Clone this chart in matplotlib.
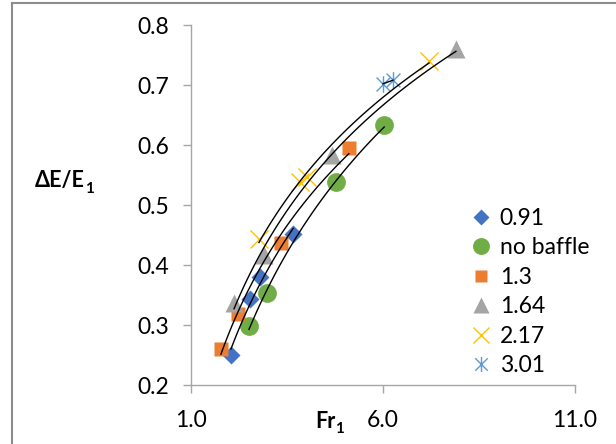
import numpy as np
import matplotlib
matplotlib.use("Agg")
import matplotlib.pyplot as plt
from matplotlib.path import Path
from matplotlib.lines import Line2D

plt.rcParams['font.family'] = ['Lato', 'DejaVu Sans']

# Fr1 y dE/E1 para cada serie (relación de bafles)
fr_091 = [2.04, 2.54, 2.80, 3.66]
de_091 = [0.250, 0.343, 0.380, 0.452]

fr_nb = [2.51, 2.98, 4.78, 6.03]
de_nb = [0.298, 0.353, 0.538, 0.633]

fr_13 = [1.78, 2.22, 3.34, 5.11]
de_13 = [0.260, 0.318, 0.436, 0.595]

fr_164 = [2.12, 2.90, 4.67, 7.90]
de_164 = [0.337, 0.417, 0.583, 0.760]

fr_217 = [2.77, 3.84, 4.02, 7.20]
de_217 = [0.443, 0.538, 0.547, 0.740]

fr_301 = [6.00, 6.26]
de_301 = [0.702, 0.708]

etiquetas = ['0.91', 'no baffle', '1.3', '1.64', '2.17', '3.01']
x_ticks = [1.0, 6.0, 11.0]
y_ticks = [0.2, 0.3, 0.4, 0.5, 0.6, 0.7, 0.8]

# marcador asterisco tipo Excel (x con barra vertical)
estrella = Path([(-1, -1), (1, 1), (-1, 1), (1, -1), (0, -1.2), (0, 1.2)],
                [Path.MOVETO, Path.LINETO] * 3)

series = [
    (fr_091, de_091, dict(marker='D', ms=9.2, color='#4472C4', mec='none')),
    (fr_nb, de_nb, dict(marker='o', ms=13.5, color='#70AD47', mec='none')),
    (fr_13, de_13, dict(marker='s', ms=10, color='#ED7D31', mec='none')),
    (fr_164, de_164, dict(marker='^', ms=13, color='#A5A5A5', mec='none')),
    (fr_217, de_217, dict(marker='x', ms=13.5, color='#FFC000', mew=1.0)),
    (fr_301, de_301, dict(marker=estrella, ms=12, color='#5B9BD5', mew=1.0)),
]

fig = plt.figure(figsize=(6.16, 4.44), dpi=100)
ax = fig.add_axes([191/616, 1-385/444, 384/616, 360/444])

for (x, y, estilo), nombre in zip(series, etiquetas):
    ax.plot(x, y, linestyle='none', label=nombre, zorder=2, **estilo)

# líneas de tendencia logarítmicas (encima de los puntos)
for x, y, _ in series:
    a, b = np.polyfit(np.log(x), y, 1)
    xs = np.linspace(min(x), max(x), 100)
    ax.plot(xs, a*np.log(xs) + b, color='black', lw=1.0, zorder=3)

ax.set_xlim(1, 11)
ax.set_ylim(0.2, 0.8)
ax.set_xticks(x_ticks)
ax.set_yticks(y_ticks)
ax.set_xticklabels([f'{v:.1f}' for v in x_ticks])
ax.set_yticklabels([f'{v:.1f}' for v in y_ticks])
ax.tick_params(axis='both', direction='out', length=6, width=1, color='#A6A6A6',
               labelsize=16.5, labelcolor='black')
ax.tick_params(axis='x', pad=12)
ax.tick_params(axis='y', pad=10)

for lado in ['top', 'right']:
    ax.spines[lado].set_visible(False)
for lado in ['left', 'bottom']:
    ax.spines[lado].set_color('#A6A6A6')
    ax.spines[lado].set_linewidth(1)

# etiquetas de los ejes con subíndice
ty = fig.text(35/616, 1-181/444, 'ΔE/E', fontsize=15.5, fontweight='bold', va='center', ha='left')
ax.annotate('1', xy=(1, 0), xycoords=ty, xytext=(0.2, -0.8), textcoords='offset points',
            fontsize=11, fontweight='bold', va='baseline', ha='left')
tx = fig.text(315/616, 1-421/444, 'Fr', fontsize=15.5, fontweight='bold', va='center', ha='left')
ax.annotate('1', xy=(1, 0), xycoords=tx, xytext=(0.2, -0.8), textcoords='offset points',
            fontsize=11, fontweight='bold', va='baseline', ha='left')

ax.legend(loc='upper left', bbox_to_anchor=(470/616, 1-208/444), bbox_transform=fig.transFigure,
          frameon=False, fontsize=16.5, handlelength=1.0, handletextpad=0.3,
          labelspacing=0.37, borderpad=0, borderaxespad=0, markerscale=0.9)

# marco del área del gráfico
fig.add_artist(Line2D([12/616, 12/616], [0, 1-3/444], transform=fig.transFigure, color='#8C8C8C', lw=1.5))
fig.add_artist(Line2D([12/616, 1], [1-3/444, 1-3/444], transform=fig.transFigure, color='#8C8C8C', lw=1.5))

fig.savefig('out.png', dpi=100)
